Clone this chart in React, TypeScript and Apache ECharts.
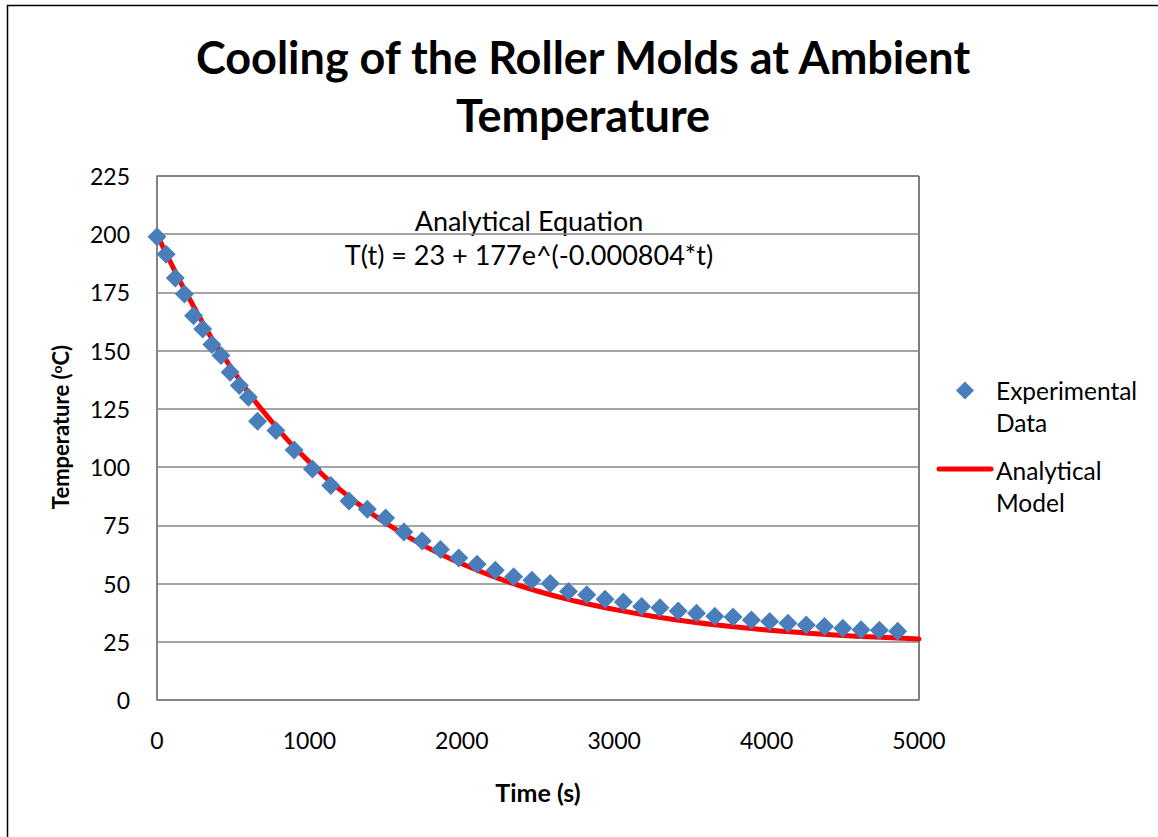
import React, { useEffect, useRef } from "react";
import * as echarts from "echarts";

const titleText = "Cooling of the Roller Molds at Ambient\nTemperature";
const xAxisName = "Time (s)";
const annotationLines = ["Analytical Equation", "T(t) = 23 + 177e^(-0.000804*t)"];
const seriesNames = ["Experimental Data", "Analytical Model"];

const expTime = [
  0, 60, 120, 180, 240, 300, 360, 420, 480, 540, 600, 660, 780, 900, 1020, 1140,
  1260, 1380, 1500, 1620, 1740, 1860, 1980, 2100, 2220, 2340, 2460, 2580, 2700,
  2820, 2940, 3060, 3180, 3300, 3420, 3540, 3660, 3780, 3900, 4020, 4140, 4260,
  4380, 4500, 4620, 4740, 4860,
];
const expTemp = [
  198.9, 191.4, 181.2, 174.3, 165.0, 159.3, 152.6, 147.9, 140.7, 135.0, 130.0,
  119.7, 115.7, 107.4, 99.2, 92.1, 85.4, 81.9, 78.1, 72.1, 68.3, 64.6, 61.0,
  58.3, 55.7, 52.9, 51.4, 50.0, 46.6, 45.2, 43.3, 42.1, 40.2, 39.6, 38.2, 37.3,
  36.0, 35.6, 34.4, 33.7, 33.0, 32.2, 31.6, 30.8, 30.2, 29.9, 29.5,
];

const modelTime = [
  0, 250, 500, 750, 1000, 1250, 1500, 1750, 2000, 2250, 2500, 2750, 3000, 3250,
  3500, 3750, 4000, 4250, 4500, 4750, 5000,
];
const modelTemp = [
  200, 167.8, 141.4, 119.8, 102.2, 87.8, 76.0, 66.3, 58.5, 52.0, 46.7, 42.4,
  38.9, 36.0, 33.6, 31.7, 30.1, 28.8, 27.7, 26.9, 26.2,
];

const yTicks = { min: 0, max: 225, interval: 25 };
const xTicks = { min: 0, max: 5000, interval: 1000 };

const FONT = "Lato, 'Open Sans', sans-serif";

export default function App() {
  const ref = useRef<HTMLDivElement>(null);

  useEffect(() => {
    document.body.style.margin = "0";
    if (!ref.current) return;
    const chart = echarts.init(ref.current, undefined, { renderer: "svg" });
    const expData = expTime.map((t, i) => [t, expTemp[i]]);
    const modelData = modelTime.map((t, i) => [t, modelTemp[i]]);

    chart.setOption({
      animation: false,
      backgroundColor: "#ffffff",
      textStyle: { fontFamily: FONT },
      title: {
        text: titleText,
        left: 578,
        top: 23,
        textAlign: "center",
        textStyle: {
          fontFamily: FONT,
          fontWeight: "bold",
          fontSize: 45,
          lineHeight: 58,
          color: "#000",
        },
      },
      grid: {
        left: 157,
        right: 239,
        top: 176,
        bottom: 137,
        show: true,
        borderColor: "#000",
        borderWidth: 1,
        backgroundColor: "#fff",
      },
      xAxis: {
        type: "value",
        min: xTicks.min,
        max: xTicks.max,
        interval: xTicks.interval,
        name: xAxisName,
        nameLocation: "middle",
        nameGap: 79,
        nameTextStyle: { fontFamily: FONT, fontWeight: "bold", fontSize: 25, color: "#000" },
        axisLine: { show: true, lineStyle: { color: "#868686", width: 1.5 } },
        axisTick: { show: false },
        splitLine: { show: false },
        axisLabel: {
          margin: 28,
          fontFamily: FONT,
          fontSize: 23,
          color: "#000",
          formatter: (v: number) => String(v),
        },
      },
      yAxis: {
        type: "value",
        min: yTicks.min,
        max: yTicks.max,
        interval: yTicks.interval,
        name: "{n|Temperature (}{s|o}{n|C)}",
        nameLocation: "middle",
        nameGap: 86,
        nameRotate: 90,
        nameTextStyle: {
          fontFamily: FONT,
          fontWeight: "bold",
          fontSize: 22,
          color: "#000",
          padding: [0, 0, 0, 22],
          rich: {
            n: { fontFamily: FONT, fontWeight: "bold", fontSize: 22, color: "#000" },
            s: {
              fontFamily: FONT,
              fontWeight: "bold",
              fontSize: 14,
              color: "#000",
              verticalAlign: "top",
              padding: [0, 0, 8, 0],
            },
          },
        },
        axisLine: { show: true, lineStyle: { color: "#868686", width: 1.5 } },
        axisTick: { show: false },
        splitLine: { show: true, lineStyle: { color: "#868686", width: 1.5 } },
        axisLabel: {
          margin: 27,
          fontFamily: FONT,
          fontSize: 23,
          color: "#000",
          formatter: (v: number) => String(v),
        },
      },
      series: [
        {
          name: seriesNames[1],
          type: "line",
          data: modelData,
          smooth: true,
          showSymbol: false,
          symbol: "none",
          lineStyle: { color: "#ff0000", width: 5, cap: "round" },
          z: 2,
        },
        {
          name: seriesNames[0],
          type: "scatter",
          data: expData,
          symbol: "diamond",
          symbolSize: [19, 19],
          itemStyle: { color: "#4a7ebb", opacity: 1 },
          z: 3,
        },
      ],
      graphic: [
        {
          type: "rect",
          shape: { x: 7.5, y: 5.5, width: 1300, height: 1000 },
          style: { fill: "none", stroke: "#000", lineWidth: 1.5 },
          silent: true,
          z: 100,
        },
        {
          type: "text",
          x: 529,
          y: 203,
          style: {
            text: annotationLines.join("\n"),
            align: "center",
            verticalAlign: "top",
            fontFamily: FONT,
            fontSize: 27,
            lineHeight: 34,
            fill: "#000",
          },
        },
        {
          type: "polygon",
          shape: { points: [[965, 381.5], [974, 390.5], [965, 399.5], [956, 390.5]] },
          style: { fill: "#4a7ebb" },
        },
        {
          type: "text",
          x: 996,
          y: 374,
          style: {
            text: "Experimental\nData",
            verticalAlign: "top",
            fontFamily: FONT,
            fontSize: 24.5,
            lineHeight: 32,
            fill: "#000",
          },
        },
        {
          type: "line",
          shape: { x1: 939, y1: 469, x2: 991, y2: 469 },
          style: { stroke: "#ff0000", lineWidth: 5, lineCap: "round" },
        },
        {
          type: "text",
          x: 996,
          y: 454,
          style: {
            text: "Analytical\nModel",
            verticalAlign: "top",
            fontFamily: FONT,
            fontSize: 24.5,
            lineHeight: 32,
            fill: "#000",
          },
        },
      ],
    });
    return () => chart.dispose();
  }, []);

  return <div ref={ref} style={{ width: 1158, height: 837 }} />;
}
